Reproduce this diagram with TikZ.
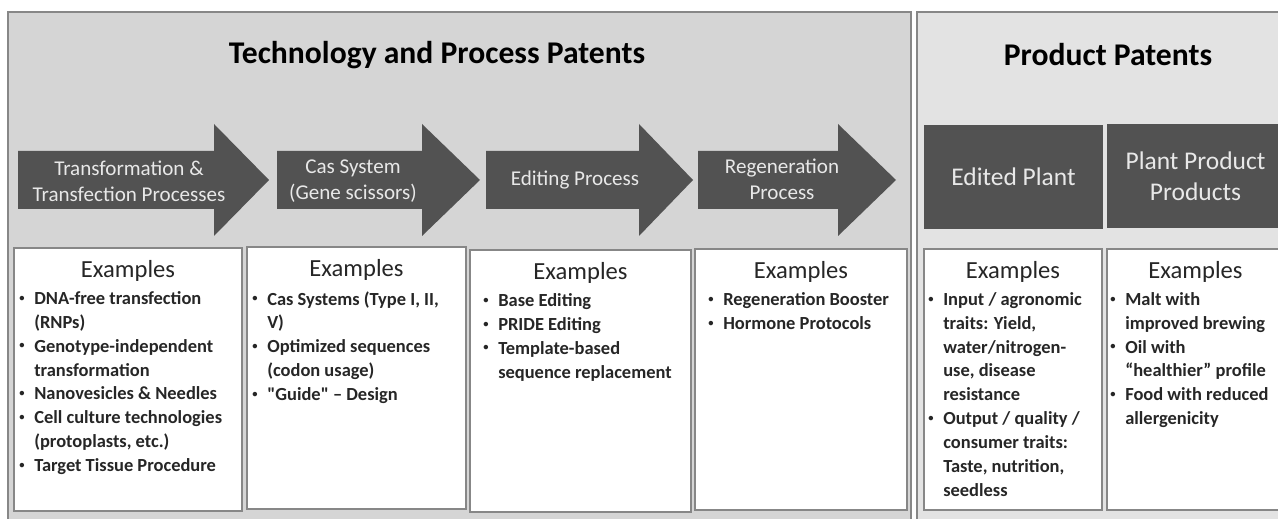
\documentclass[tikz,border=0pt]{standalone}
\usepackage{fontspec}
\setmainfont{Carlito}
\usepackage{xcolor}
\usepackage{tikz}
\usetikzlibrary{positioning, fit}
\definecolor{techgray}{RGB}{213, 213, 213}
\definecolor{prodgray}{RGB}{227, 227, 227}
\definecolor{stepgray}{RGB}{82, 82, 82}
\definecolor{framegray}{RGB}{135, 135, 135}
\definecolor{steplight}{RGB}{232, 232, 232}
\definecolor{listink}{RGB}{38, 38, 38}
\newcommand{\bl}{\makebox[8.5pt][l]{\raisebox{0.35ex}{\fontsize{6}{6}\selectfont\textbullet}}}
\newcommand{\cn}{\hspace*{8.5pt}}

\begin{document}
\begin{tikzpicture}[x=0.02cm, y=-0.02cm,
    panel/.style={draw=framegray, line width=1pt},
    banner/.style={font=\fontsize{18}{21}\selectfont\bfseries, text=black},
    steptext/.style={text=steplight, align=center, font=\fontsize{12}{14.7}\selectfont},
    prodbox/.style={fill=stepgray, inner sep=0pt, text=steplight, align=center,
        font=\fontsize{14.5}{17.5}\selectfont},
    exbox/.style={draw=framegray, fill=white, line width=0.9pt, inner sep=0pt},
    exhead/.style={font=\fontsize{14}{16}\selectfont, text=listink, inner sep=0pt},
    exlist/.style={font=\fontsize{10.5}{13.6}\selectfont\bfseries, text=listink,
        align=left, inner sep=0pt, anchor=north west}]
    \useasboundingbox (0,0) rectangle (1278,519);
    \clip (0,0) rectangle (1278,519);

    % Panels
    \draw[panel, fill=techgray] (8,12) rectangle (911,540);
    \draw[panel, fill=prodgray] (917,12) rectangle (1300,540);
    \node[banner] (techtitle) at (437,55) {Technology and Process Patents};
    \node[banner] (prodtitle) at (1108,55) {Product Patents};

    % Process arrows
    \foreach \a/\b/\c in {18/214/269, 277/422/480, 486/639/693, 698/838/896}
        \fill[stepgray] (\a,151) -- (\b,151) -- (\b,124) -- (\c,180)
            -- (\b,236) -- (\b,209) -- (\a,209) -- cycle;
    \node[steptext] (trans) at (129,181) {Transformation \&\\Transfection Processes};
    \node[steptext] (cas) at (353,181) {Cas System\\(Gene scissors)};
    \node[steptext] (editing) at (575,180) {Editing Process};
    \node[steptext] (regen) at (782,179) {Regeneration\\Process};

    % Product boxes
    \node[prodbox, fit={(924,125) (1103,229)}] (edited) {};
    \node[prodbox, fit={(1107,124) (1284,228)}] (products) {};
    \node[prodbox] (editedtxt) at (edited.center) {Edited Plant};
    \node[prodbox] (productstxt) at (products.center) {Plant Product\\Products};

    % Example boxes
    \node[exbox, fit={(14,248) (242,511)}] (ex1) {};
    \node[exbox, fit={(247,247) (466,509)}] (ex2) {};
    \node[exbox, fit={(470,250) (691,512)}] (ex3) {};
    \node[exbox, fit={(695,249) (907,510)}] (ex4) {};
    \node[exbox, fit={(924,249) (1102,510)}] (ex5) {};
    \node[exbox, fit={(1107,249) (1284,510)}] (ex6) {};
    \foreach \n in {1,...,6}
        \node[exhead, below=7.5pt of ex\n.north] (exh\n) {Examples};

    \node[exlist] (exl1) at (19,291) {\bl DNA-free transfection\\\cn (RNPs)\\
        \bl Genotype-independent\\\cn transformation\\
        \bl Nanovesicles \& Needles\\
        \bl Cell culture technologies\\\cn (protoplasts, etc.)\\
        \bl Target Tissue Procedure};
    \node[exlist] (exl2) at (252,291) {\bl Cas Systems (Type I, II,\\\cn V)\\
        \bl Optimized sequences\\\cn (codon usage)\\
        \bl \textquotedbl Guide\textquotedbl\ -- Design};
    \node[exlist] (exl3) at (483,293) {\bl Base Editing\\
        \bl PRIDE Editing\\
        \bl Template-based\\\cn sequence replacement};
    \node[exlist] (exl4) at (708,292) {\bl Regeneration Booster\\
        \bl Hormone Protocols};
    \node[exlist] (exl5) at (928,292) {\bl Input / agronomic\\\cn traits: Yield,\\
        \cn water/nitrogen-\\\cn use, disease\\\cn resistance\\
        \bl Output / quality /\\\cn consumer traits:\\\cn Taste, nutrition,\\\cn seedless};
    \node[exlist] (exl6) at (1110,292) {\bl Malt with\\\cn improved brewing\\
        \bl Oil with\\\cn “healthier” profile\\
        \bl Food with reduced\\\cn allergenicity};
\end{tikzpicture}
\end{document}
